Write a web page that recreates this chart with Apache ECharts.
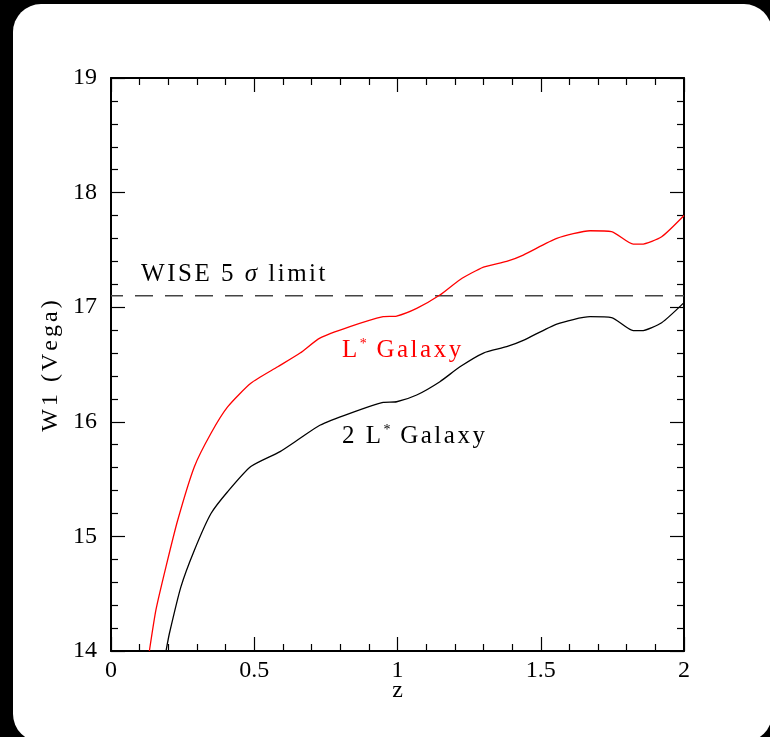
<!DOCTYPE html>
<html>
<head>
<meta charset="utf-8">
<script src="https://cdn.jsdelivr.net/npm/echarts@6/dist/echarts.min.js"></script>
<style>
  html, body { margin: 0; padding: 0; background: #000; }
  #card { position: absolute; left: 13px; top: 4px; width: 759px; height: 738px;
          background: #fff; border-radius: 28px; }
  #chart { position: absolute; left: 0; top: 0; width: 770px; height: 737px; }
</style>
</head>
<body>
<div id="card"></div>
<div id="chart"></div>
<script>
// Redshift grid and W1 magnitudes (Vega) for an L* galaxy
const lstarZ = [0.134, 0.157, 0.192, 0.233, 0.291, 0.349, 0.407, 0.488, 0.582, 0.66, 0.729, 0.834, 0.95, 0.997, 1.067, 1.148, 1.218, 1.30, 1.381, 1.439, 1.556, 1.672, 1.747, 1.823, 1.852, 1.922, 2.0];
const lstarW1 = [14.0, 14.36, 14.736, 15.143, 15.608, 15.90, 16.13, 16.336, 16.48, 16.60, 16.73, 16.83, 16.917, 16.923, 16.99, 17.106, 17.24, 17.35, 17.40, 17.455, 17.60, 17.667, 17.66, 17.55, 17.55, 17.615, 17.80];

// Same for a 2 L* galaxy
const twoLstarZ = [0.192, 0.204, 0.244, 0.291, 0.349, 0.407, 0.488, 0.59, 0.66, 0.729, 0.834, 0.95, 0.997, 1.067, 1.148, 1.218, 1.30, 1.381, 1.439, 1.556, 1.672, 1.747, 1.823, 1.852, 1.922, 2.0];
const twoLstarW1 = [14.0, 14.155, 14.56, 14.88, 15.20, 15.39, 15.61, 15.74, 15.856, 15.97, 16.074, 16.17, 16.175, 16.234, 16.35, 16.48, 16.60, 16.655, 16.71, 16.853, 16.917, 16.91, 16.795, 16.795, 16.865, 17.04];

// WISE 5-sigma detection limit in W1
const wiseLimit = 17.1;
const zRange = [0, 2];
const w1Range = [14, 19];

const FONT = '"Liberation Serif", "DejaVu Serif", serif';

// Letter-spaced rich text: every character becomes a token whose box is
// its own advance plus a fixed tracking. Segments: [string, kind]
// where kind is 'm' (regular), 'g' (italic) or 's' (superscript).
const measureCtx = document.createElement('canvas').getContext('2d');
function tracked(segments, color, size, tracking) {
  let text = '';
  const rich = {};
  let n = 0;
  segments.forEach(([str, kind]) => {
    const fs = kind === 's' ? Math.round(size * 0.56) : size;
    const italic = kind === 'g';
    measureCtx.font = (italic ? 'italic ' : '') + fs + 'px ' + FONT;
    Array.from(str).forEach(ch => {
      const key = 't' + (n++);
      const w = measureCtx.measureText(ch).width + (kind === 's' ? 1 : tracking);
      rich[key] = {
        fontFamily: FONT, fontSize: fs, fontStyle: italic ? 'italic' : 'normal',
        color: color, fill: color, width: w, align: 'left',
        lineHeight: size + 2, verticalAlign: kind === 's' ? 'top' : 'middle'
      };
      text += '{' + key + '|' + ch + '}';
    });
  });
  return { text, rich };
}

// Text annotations anchored in data space: [z, W1]
const annotations = [
  { at: [0.105, 17.29], color: '#000', parts: [['WISE 5 ', 'm'], ['σ', 'g'], [' limit', 'm']] },
  { at: [0.806, 16.62], color: '#ff0000', parts: [['L', 'm'], ['*', 's'], [' Galaxy', 'm']] },
  { at: [0.806, 15.87], color: '#000', parts: [['2 L', 'm'], ['*', 's'], [' Galaxy', 'm']] }
];
const yName = tracked([['W1 (Vega)', 'm']], '#000', 24, 3);

const pairs = (xs, ys) => xs.map((x, i) => [x, ys[i]]);

const tickStyle = { color: '#000', width: 1.2 };
const baseAxis = {
  type: 'value',
  axisLine: { show: true, onZero: false, lineStyle: { color: '#000', width: 2 } },
  axisTick: { show: true, inside: true, length: 14, lineStyle: tickStyle },
  minorTick: { show: true, splitNumber: 5, length: 7, lineStyle: tickStyle },
  splitLine: { show: false },
  minorSplitLine: { show: false }
};
const labelStyle = { color: '#000', fontFamily: FONT, fontSize: 24 };

const chart = echarts.init(document.getElementById('chart'), null, { renderer: 'canvas' });
chart.setOption({
  backgroundColor: 'transparent',
  animation: false,
  grid: { left: 111, top: 78, width: 573, height: 573, containLabel: false },
  xAxis: [
    Object.assign({}, baseAxis, {
      position: 'bottom', min: zRange[0], max: zRange[1], interval: 0.5,
      name: 'z', nameLocation: 'middle', nameGap: 28, nameMoveOverlap: false,
      nameTextStyle: labelStyle,
      axisLabel: Object.assign({ margin: 8 }, labelStyle)
    }),
    Object.assign({}, baseAxis, {
      position: 'top', min: zRange[0], max: zRange[1], interval: 0.5,
      axisLabel: { show: false }
    })
  ],
  yAxis: [
    Object.assign({}, baseAxis, {
      position: 'left', min: w1Range[0], max: w1Range[1], interval: 1,
      name: yName.text, nameLocation: 'middle', nameGap: 47, nameRotate: 90,
      nameMoveOverlap: false,
      nameTextStyle: Object.assign({ rich: yName.rich }, labelStyle),
      axisLabel: Object.assign({ margin: 14 }, labelStyle)
    }),
    Object.assign({}, baseAxis, {
      position: 'right', min: w1Range[0], max: w1Range[1], interval: 1,
      axisLabel: { show: false }
    })
  ],
  series: [
    {
      type: 'line', name: 'WISE limit', xAxisIndex: 0, yAxisIndex: 0,
      data: [[zRange[0], wiseLimit], [zRange[1], wiseLimit]],
      showSymbol: false, silent: true,
      lineStyle: { color: '#444', width: 1.6, type: [18, 12], dashOffset: 6 }
    },
    {
      type: 'line', name: 'L* Galaxy', xAxisIndex: 0, yAxisIndex: 0,
      data: pairs(lstarZ, lstarW1), showSymbol: false, clip: true,
      smooth: 0.2,
      lineStyle: { color: '#ff0000', width: 1.3 }
    },
    {
      type: 'line', name: '2 L* Galaxy', xAxisIndex: 0, yAxisIndex: 0,
      data: pairs(twoLstarZ, twoLstarW1), showSymbol: false, clip: true,
      smooth: 0.2,
      lineStyle: { color: '#000', width: 1.3 }
    }
  ]
});

// Place annotations at their data-space anchors
const graphics = annotations.map(a => {
  const p = chart.convertToPixel({ xAxisIndex: 0, yAxisIndex: 0 }, a.at);
  const t = tracked(a.parts, a.color, 25, 2.5);
  return {
    type: 'text', x: p[0], y: p[1], z: 10,
    style: { text: t.text, rich: t.rich, fill: a.color, align: 'left', verticalAlign: 'middle' }
  };
});
chart.setOption({ graphic: graphics });
</script>
</body>
</html>
